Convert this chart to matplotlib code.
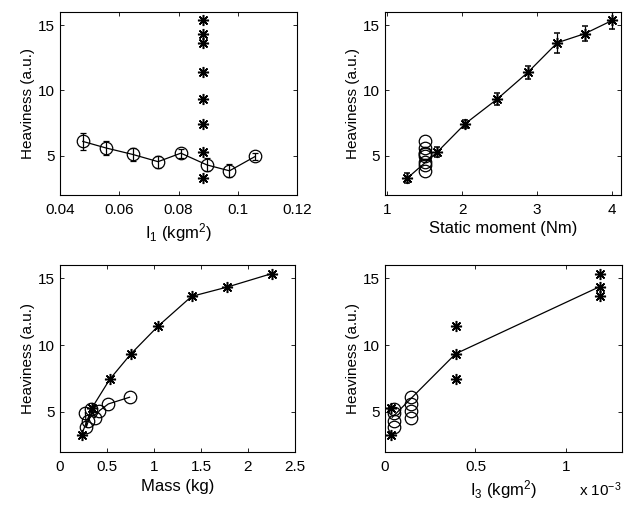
import matplotlib
matplotlib.use('Agg')
import matplotlib.pyplot as plt

plt.rcParams['font.family'] = ['Liberation Sans', 'DejaVu Sans']
plt.rcParams['mathtext.default'] = 'regular'
plt.rcParams['font.size'] = 11

# circles: configurations with constant static moment, varying I1
i1_circ = [0.0477, 0.0555, 0.0646, 0.0731, 0.0808, 0.0896, 0.0972, 0.1059]
heavy_circ = [6.1, 5.6, 5.1, 4.55, 5.2, 4.3, 3.85, 4.95]
err_circ = [0.65, 0.55, 0.5, 0.45, 0.35, 0.5, 0.5, 0.3]
mass_circ = [0.74, 0.515, 0.42, 0.37, 0.325, 0.30, 0.28, 0.27]
sm_circ = [1.5] * 8
i3_circ = [0.144, 0.144, 0.144, 0.144, 0.05, 0.05, 0.05, 0.05]  # x 10^-3

# stars: configurations with constant I1, varying static moment
i1_star = [0.0882] * 8
heavy_star = [3.3, 5.3, 7.45, 9.35, 11.4, 13.65, 14.35, 15.35]
err_star = [0.35, 0.4, 0.3, 0.45, 0.5, 0.78, 0.55, 0.62]
sm_star = [1.27, 1.67, 2.04, 2.47, 2.88, 3.27, 3.64, 4.0]
mass_star = [0.23, 0.34, 0.53, 0.755, 1.04, 1.40, 1.78, 2.25]
i3_star = [0.033, 0.033, 0.39, 0.39, 0.39, 1.19, 1.19, 1.19]  # x 10^-3

# trend line in the I3 panel
i3_line = [0.04, 0.39, 1.19]
heavy_line = [4.6, 9.35, 14.4]

asterisk = (8, 2, 0)
ms_c = 9
ms_s = 8
lw = 0.9

fig = plt.figure(figsize=(6.31, 5.05), dpi=100)
W, H = 631, 505


def add_ax(x0, y0, x1, y1):
    return fig.add_axes([x0 / W, 1 - y1 / H, (x1 - x0) / W, (y1 - y0) / H])


def style(ax, xlabel):
    ax.tick_params(direction='in', length=3, width=0.6, top=True, right=True,
                   labelsize=11)
    ax.tick_params(axis='x', pad=6)
    ax.tick_params(axis='y', pad=3.5)
    for s in ax.spines.values():
        s.set_linewidth(0.8)
    ax.set_ylim(2, 16)
    ax.set_yticks([5, 10, 15])
    ax.set_ylabel('Heaviness (a.u.)', fontsize=11, labelpad=2)
    ax.set_xlabel(xlabel, fontsize=12, labelpad=3)


# I1 panel
ax1 = add_ax(60, 12, 297, 195)
ax1.errorbar(i1_circ, heavy_circ, yerr=err_circ, color='k', lw=lw, marker='o',
             mfc='none', ms=ms_c, mew=lw, capsize=2, elinewidth=lw)
ax1.plot(i1_star, heavy_star, ls='none', marker=asterisk, color='k', ms=ms_s, mew=1.1)
ax1.set_xlim(0.04, 0.12)
ax1.set_xticks([0.04, 0.06, 0.08, 0.1, 0.12])
ax1.set_xticklabels(['0.04', '0.06', '0.08', '0.1', '0.12'])
style(ax1, 'I$_1$ (kgm$^2$)')

# Static moment panel
ax2 = add_ax(385, 12, 621, 195)
ax2.errorbar(sm_star, heavy_star, yerr=err_star, color='k', lw=lw, marker=asterisk,
             ms=ms_s, mew=1.1, capsize=2, elinewidth=lw)
ax2.plot(sm_circ, heavy_circ, ls='none', marker='o', mfc='none', color='k',
         ms=ms_c, mew=lw)
ax2.set_xlim(0.97, 4.12)
ax2.set_xticks([1, 2, 3, 4])
style(ax2, 'Static moment (Nm)')

# Mass panel
ax3 = add_ax(60, 265, 295, 452)
ax3.plot(mass_star, heavy_star, color='k', lw=lw, marker=asterisk, ms=ms_s, mew=1.1)
ax3.plot(mass_circ, heavy_circ, color='k', lw=lw, marker='o', mfc='none',
         ms=ms_c, mew=lw)
ax3.set_xlim(0, 2.5)
ax3.set_xticks([0, 0.5, 1, 1.5, 2, 2.5])
ax3.set_xticklabels(['0', '0.5', '1', '1.5', '2', '2.5'])
style(ax3, 'Mass (kg)')

# I3 panel
ax4 = add_ax(385, 265, 622, 452)
ax4.plot(i3_line, heavy_line, color='k', lw=lw)
ax4.plot(i3_star, heavy_star, ls='none', marker=asterisk, color='k', ms=ms_s, mew=1.1)
ax4.plot(i3_circ, heavy_circ, ls='none', marker='o', mfc='none', color='k',
         ms=ms_c, mew=lw)
ax4.set_xlim(0, 1.31)
ax4.set_xticks([0, 0.5, 1])
ax4.set_xticklabels(['0', '0.5', '1'])
style(ax4, 'I$_3$ (kgm$^2$)')
ax4.text(1.0, -0.2, 'x 10$^{-3}$', transform=ax4.transAxes, ha='right',
         va='center', fontsize=11)

fig.savefig('out.png', dpi=100)
